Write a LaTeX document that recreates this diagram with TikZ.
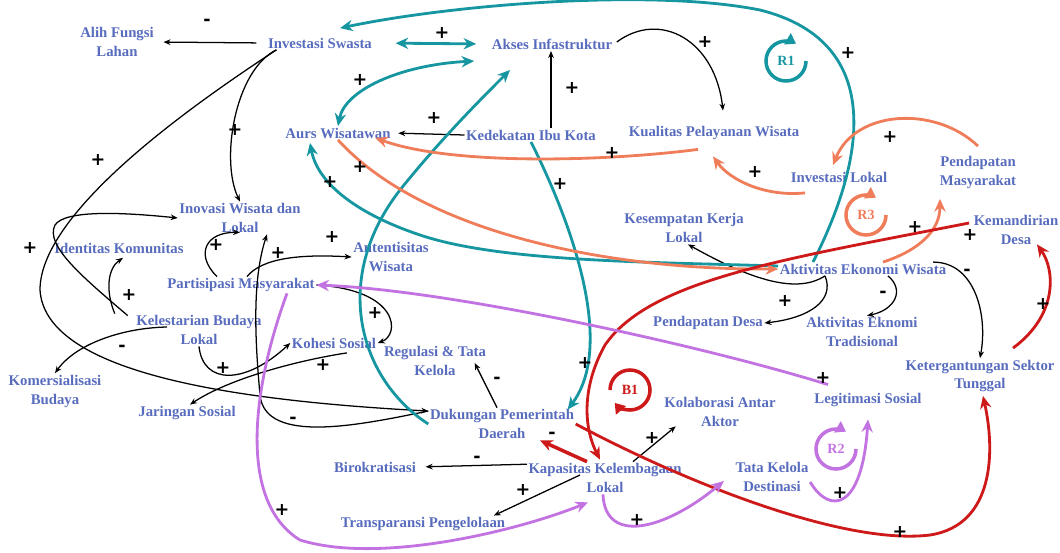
\documentclass[tikz,border=0pt]{standalone}
\usepackage{fontspec}
\setmainfont{Liberation Serif}
\newfontfamily\signfont{DejaVu Sans}
\usetikzlibrary{arrows.meta}
\definecolor{txtblue}{RGB}{88,108,190}
\definecolor{lteal}{RGB}{22,150,160}
\definecolor{lorange}{RGB}{240,125,90}
\definecolor{lred}{RGB}{205,25,25}
\definecolor{lpurple}{RGB}{195,115,225}
\begin{document}
\begin{tikzpicture}[x=0.025cm,y=-0.025cm,
  var/.style={font=\bfseries\fontsize{10.5}{13.5}\selectfont,text=txtblue,align=center,inner sep=1pt},
  sgn/.style={font=\signfont\bfseries\fontsize{12.5}{12.5}\selectfont,inner sep=0pt},
  blk/.style={line width=0.9pt,>={Stealth[length=5pt,width=4pt]},->},
  col/.style={line width=2pt,>={Stealth[length=9pt,width=8pt]},->},
  loopsym/.style={line width=2.5pt,-{Triangle[length=7pt,width=9pt]}},
  looplbl/.style={font=\bfseries\fontsize{10}{12}\selectfont,inner sep=0pt}]
\useasboundingbox (0,0) rectangle (1060,553);

\node[var] (alih) at (117,42) {Alih Fungsi\\Lahan};
\node[var] (invs) at (320,43) {Investasi Swasta};
\node[var] (akses) at (552,44) {Akses Infastruktur};
\node[var] (aurs) at (338,133) {Aurs Wisatawan};
\node[var] (kedek) at (531,135) {Kedekatan Ibu Kota};
\node[var] (kual) at (714,133) {Kualitas Pelayanan Wisata};
\node[var] (invl) at (839,177) {Investasi Lokal};
\node[var] (pmas) at (978,172) {Pendapatan\\Masyarakat};
\node[var] (inov) at (240,218) {Inovasi Wisata dan\\Lokal};
\node[var] (ident) at (119,248) {Identitas Komunitas};
\node[var] (kerja) at (684,228) {Kesempatan Kerja\\Lokal};
\node[var] (mandiri) at (1016,230) {Kemandirian\\Desa};
\node[var] (autent) at (391,257) {Antentisitas\\Wisata};
\node[var] (partis) at (241,285) {Partisipasi Masyarakat};
\node[var] (aew) at (863,269) {Aktivitas Ekonomi Wisata};
\node[var] (lestari) at (199,330) {Kelestarian Budaya\\Lokal};
\node[var] (pdesa) at (708,323) {Pendapatan Desa};
\node[var] (aet) at (862,332) {Aktivitas Eknomi\\Tradisional};
\node[var] (kohesi) at (334,343) {Kohesi Sosial};
\node[var] (regul) at (435,361) {Regulasi \& Tata\\Kelola};
\node[var] (keterg) at (980,376) {Ketergantungan Sektor\\Tunggal};
\node[var] (komers) at (55,391) {Komersialisasi\\Budaya};
\node[var] (jaring) at (187,413) {Jaringan Sosial};
\node[var] (dukung) at (502,424) {Dukungan Pemerintah\\Daerah};
\node[var] (kolab) at (720,412) {Kolaborasi Antar\\Aktor};
\node[var] (legit) at (868,400) {Legitimasi Sosial};
\node[var] (birok) at (375,467) {Birokratisasi};
\node[var] (kapas) at (605,478) {Kapasitas Kelembagaan\\Lokal};
\node[var] (tata) at (772,477) {Tata Kelola\\Destinasi};
\node[var] (transp) at (423,524) {Transparansi Pengelolaan};

\draw[blk,shorten <=0.25cm,shorten >=0.2cm] (invs.west) -- (alih.east);
\draw[blk] ([shift={(10,0)}]invs.south west) .. controls (235,70) and (220,160) .. (inov.north);
\draw[blk] ([shift={(10,0)}]invs.south west) .. controls (200,100) and (40,210) .. (40,290) .. controls (45,370) and (220,400) .. (dukung.170);
\draw[blk] ([shift={(-20,0)}]lestari.north west) .. controls (105,290) and (108,268) .. ([shift={(4,3)}]ident.south);
\draw[blk] ([shift={(-7,2)}]lestari.north west) .. controls (80,275) and (45,245) .. (55,225) .. controls (65,210) and (120,212) .. (inov.west);
\draw[blk] ([shift={(-32,-3)}]lestari.center) .. controls (120,328) and (75,345) .. (komers.north);
\draw[blk] (lestari.south) .. controls (203,385) and (245,385) .. (kohesi.west);
\draw[blk] ([shift={(13,3)}]kohesi.south) .. controls (300,360) and (230,378) .. ([shift={(3,0)}]jaring.north);
\draw[blk] ([shift={(-24,0)}]partis.north) .. controls (195,255) and (205,232) .. ([shift={(0,-2)}]inov.south);
\draw[blk] ([shift={(6,0)}]partis.north) .. controls (262,258) and (300,254) .. (autent.west);
\draw[blk] (partis.east) .. controls (400,290) and (400,335) .. (kohesi.east);
\draw[blk] (dukung.170) .. controls (360,425) and (265,445) .. (260,395) .. controls (255,340) and (252,280) .. ([shift={(27,0)}]inov.south);
\draw[blk,shorten >=0.15cm] (kedek.west) -- (aurs.east);
\draw[blk] ([shift={(20,0)}]kedek.north) -- ([shift={(-1,0)}]akses.south);
\draw[blk] ([shift={(3,-2)}]akses.east) .. controls (660,10) and (715,40) .. ([shift={(9,-14)}]kual.north);
\draw[blk] ([shift={(-5,0)}]dukung.north) -- ([shift={(-13,2)}]regul.east);
\draw[blk] ([shift={(-38,0)}]aew.south) .. controls (800,292) and (760,285) .. ([shift={(4,0)}]kerja.south);
\draw[blk] ([shift={(-38,0)}]aew.south) .. controls (835,300) and (810,318) .. (pdesa.east);
\draw[blk] ([shift={(25,0)}]aew.south) .. controls (905,290) and (895,310) .. ([shift={(5,0)}]aet.north);
\draw[blk] ([shift={(70,0)}]aew.north) .. controls (975,262) and (988,315) .. (keterg.north);
\draw[blk,shorten >=0.2cm] (kapas.170) -- (birok.east);
\draw[blk] ([shift={(-25,-3)}]kapas.center) -- ([shift={(-13,0)}]transp.north east);
\draw[blk] ([shift={(28,0)}]kapas.north) -- ([shift={(13,-2)}]kolab.south west);

\draw[col,lteal,<->,shorten <=0.55cm,shorten >=0.35cm] (invs.east) -- (akses.west);
\draw[col,lteal,<->] (aurs.north) .. controls (345,90) and (400,65) .. ([shift={(-16,17)}]akses.west);
\draw[col,lteal] (dukung.west) .. controls (360,380) and (330,280) .. (400,190) .. controls (440,140) and (480,100) .. ([shift={(-42,19)}]akses.south);
\draw[col,lteal] ([shift={(0,-3)}]aew.west) .. controls (650,262) and (500,262) .. (420,235) .. controls (360,215) and (318,185) .. ([shift={(-28,3)}]aurs.south);
\draw[col,lteal] ([shift={(-50,0)}]aew.north) .. controls (870,150) and (880,40) .. (760,10) .. controls (650,-12) and (450,5) .. ([shift={(20,-8)}]invs.north);
\draw[col,lteal] (kedek.south) .. controls (580,240) and (612,350) .. ([shift={(-8,2)}]dukung.north east);

\draw[col,lorange] ([shift={(-16,8)}]kual.south) .. controls (600,162) and (450,165) .. ([shift={(-17,-2)}]aurs.south east);
\draw[col,lorange] ([shift={(-34,9)}]invl.south) .. controls (765,197) and (730,180) .. ([shift={(-1,15)}]kual.south);
\draw[col,lorange] ([shift={(0,-8)}]pmas.north) .. controls (935,105) and (855,110) .. ([shift={(-6,-5)}]invl.north);
\draw[col,lorange] ([shift={(20,0)}]aew.north) .. controls (920,250) and (940,230) .. ([shift={(-38,9)}]pmas.south);
\draw[col,lorange] (aurs.south) .. controls (420,230) and (600,270) .. (aew.west);

\draw[col,lred] ([shift={(-3,-7)}]mandiri.west) .. controls (780,260) and (650,280) .. (605,345) .. controls (580,390) and (585,430) .. ([shift={(-5,-2)}]kapas.north);
\draw[col,lred,line width=2.5pt] ([shift={(-18,0)}]kapas.north) -- ([shift={(38,0)}]dukung.south);
\draw[col,lred] (dukung.east) .. controls (700,490) and (850,545) .. (930,535) .. controls (995,525) and (995,450) .. ([shift={(3,2)}]keterg.south);
\draw[col,lred] ([shift={(33,-10)}]keterg.north) .. controls (1058,315) and (1055,270) .. ([shift={(21,-2)}]mandiri.south);

\draw[col,lpurple] ([shift={(-40,-7)}]legit.north) .. controls (700,345) and (450,290) .. (partis.east);
\draw[col,lpurple] ([shift={(46,0)}]partis.south) .. controls (255,380) and (235,500) .. (300,540) .. controls (380,565) and (520,530) .. ([shift={(-17,8)}]kapas.south);
\draw[col,lpurple] ([shift={(-2,0)}]kapas.south) .. controls (605,545) and (665,530) .. ([shift={(-10,4)}]tata.west);
\draw[col,lpurple] ([shift={(0,5)}]tata.east) .. controls (830,515) and (862,510) .. ([shift={(0,11)}]legit.south);

\node[looplbl,lteal] (r1) at (786,61) {R1};
\draw[loopsym,lteal] (r1.center) ++(0:0.5cm) arc[start angle=0,end angle=-300,radius=0.5cm];
\node[looplbl,lorange] (r3) at (866,215) {R3};
\draw[loopsym,lorange] (r3.center) ++(0:0.5cm) arc[start angle=0,end angle=-300,radius=0.5cm];
\node[looplbl,lpurple] (r2) at (836,449) {R2};
\draw[loopsym,lpurple] (r2.center) ++(0:0.5cm) arc[start angle=0,end angle=-300,radius=0.5cm];
\node[looplbl,lred] (b1) at (630,390) {B1};
\draw[loopsym,lred] (b1.center) ++(180:0.5cm) arc[start angle=180,end angle=-140,radius=0.5cm];

\node[sgn] (s1) at (207,22) {-};
\node[sgn] (s2) at (442,33) {+};
\node[sgn] (s3) at (705,42) {+};
\node[sgn] (s4) at (848,53) {+};
\node[sgn] (s5) at (360,80) {+};
\node[sgn] (s6) at (572,88) {+};
\node[sgn] (s7) at (235,130) {+};
\node[sgn] (s8) at (434,118) {+};
\node[sgn] (s9) at (98,160) {+};
\node[sgn] (s10) at (612,153) {+};
\node[sgn] (s11) at (890,137) {+};
\node[sgn] (s12) at (360,167) {+};
\node[sgn] (s13) at (330,182) {+};
\node[sgn] (s14) at (560,184) {+};
\node[sgn] (s15) at (755,172) {+};
\node[sgn] (s16) at (30,248) {+};
\node[sgn] (s17) at (216,245) {+};
\node[sgn] (s18) at (278,253) {+};
\node[sgn] (s19) at (332,237) {+};
\node[sgn] (s20) at (915,227) {+};
\node[sgn] (s21) at (970,235) {+};
\node[sgn] (s22) at (129,295) {+};
\node[sgn] (s23) at (375,313) {+};
\node[sgn] (s24) at (785,301) {+};
\node[sgn] (s25) at (883,294) {-};
\node[sgn] (s26) at (967,272) {-};
\node[sgn] (s27) at (1043,304) {+};
\node[sgn] (s28) at (122,348) {-};
\node[sgn] (s29) at (223,368) {+};
\node[sgn] (s30) at (323,365) {+};
\node[sgn] (s31) at (585,363) {+};
\node[sgn] (s32) at (497,380) {-};
\node[sgn] (s33) at (823,378) {+};
\node[sgn] (s34) at (293,420) {-};
\node[sgn] (s35) at (552,435) {-};
\node[sgn] (s36) at (652,438) {+};
\node[sgn] (s37) at (477,459) {-};
\node[sgn] (s38) at (523,490) {+};
\node[sgn] (s39) at (840,493) {+};
\node[sgn] (s40) at (282,510) {+};
\node[sgn] (s41) at (637,520) {+};
\node[sgn] (s42) at (900,532) {+};
\end{tikzpicture}
\end{document}
